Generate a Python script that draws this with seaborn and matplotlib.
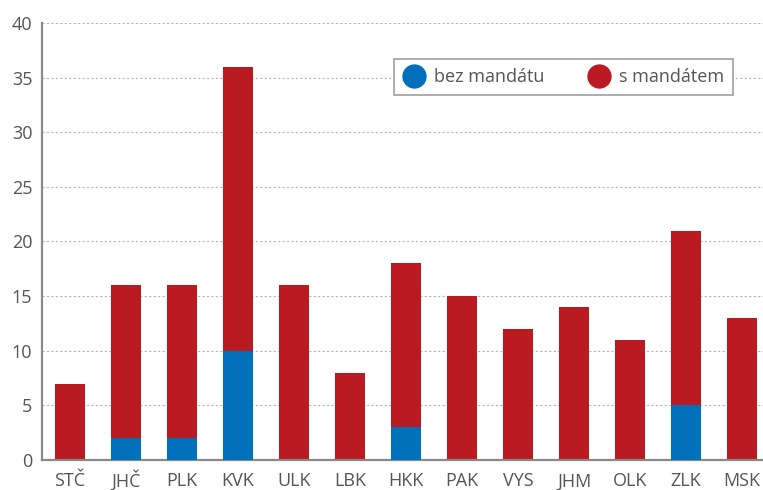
import matplotlib
matplotlib.use("Agg")
import matplotlib.pyplot as plt
from matplotlib.lines import Line2D
import seaborn as sns
import pandas as pd

regions = ["STČ", "JHČ", "PLK", "KVK", "ULK", "LBK", "HKK", "PAK", "VYS", "JHM", "OLK", "ZLK", "MSK"]
bez_mandatu = [0, 2, 2, 10, 0, 0, 3, 0, 0, 0, 0, 5, 0]
s_mandatem = [7, 14, 14, 26, 16, 8, 15, 15, 12, 14, 11, 16, 13]
yticks = [0, 5, 10, 15, 20, 25, 30, 35, 40]

BLUE = "#0070ba"
RED = "#ba1a22"
GRAY = "#8a8a8a"
TEXT = "#555555"

sns.set_theme(style="white")
plt.rcParams["font.family"] = ["Open Sans", "DejaVu Sans"]

df = pd.DataFrame({
    "kraj": regions,
    "bez": bez_mandatu,
    "s": s_mandatem,
})
df["celkem"] = df["bez"] + df["s"]

fig = plt.figure(figsize=(7.63, 4.90), dpi=100)
ax = fig.add_axes([42 / 763, 30 / 490, 1 - 42 / 763, 437 / 490])

sns.barplot(data=df, x="kraj", y="celkem", color=RED, width=0.55,
            saturation=1, linewidth=0, ax=ax, zorder=2)
sns.barplot(data=df, x="kraj", y="bez", color=BLUE, width=0.55,
            saturation=1, linewidth=0, ax=ax, zorder=3)

ax.set_xlim(-0.5, 12.375)
ax.set_ylim(0, 40)
ax.set_yticks(yticks)
ax.set_xlabel("")
ax.set_ylabel("")
ax.yaxis.grid(True, linestyle=(0, (2, 2)), color="#b5b5b5", linewidth=0.8, zorder=0)
ax.set_axisbelow(True)

for side in ["top", "right"]:
    ax.spines[side].set_visible(False)
for side in ["left", "bottom"]:
    ax.spines[side].set_color(GRAY)
    ax.spines[side].set_linewidth(1.6)

ax.tick_params(axis="both", length=0, labelsize=13, labelcolor=TEXT)
ax.tick_params(axis="y", pad=7)
ax.tick_params(axis="x", pad=19)
for lbl in ax.get_xticklabels():
    lbl.set_verticalalignment("baseline")

handles = [
    Line2D([], [], marker="o", linestyle="", markersize=16.5,
           markerfacecolor=BLUE, markeredgecolor=BLUE, label="bez mandátu"),
    Line2D([], [], marker="o", linestyle="", markersize=16.5,
           markerfacecolor=RED, markeredgecolor=RED, label="s mandátem"),
]
leg = ax.legend(handles=handles, ncol=2, loc="upper right",
                bbox_to_anchor=(0.958, 0.918), frameon=True, fancybox=False,
                fontsize=13, handletextpad=0.45, columnspacing=2.4,
                borderpad=0.5, handlelength=1.27, labelcolor=TEXT,
                borderaxespad=0)
leg.get_frame().set_edgecolor("#a0a0a0")
leg.get_frame().set_linewidth(1.2)
leg.get_frame().set_alpha(1)

fig.savefig("out.png", dpi=100)
